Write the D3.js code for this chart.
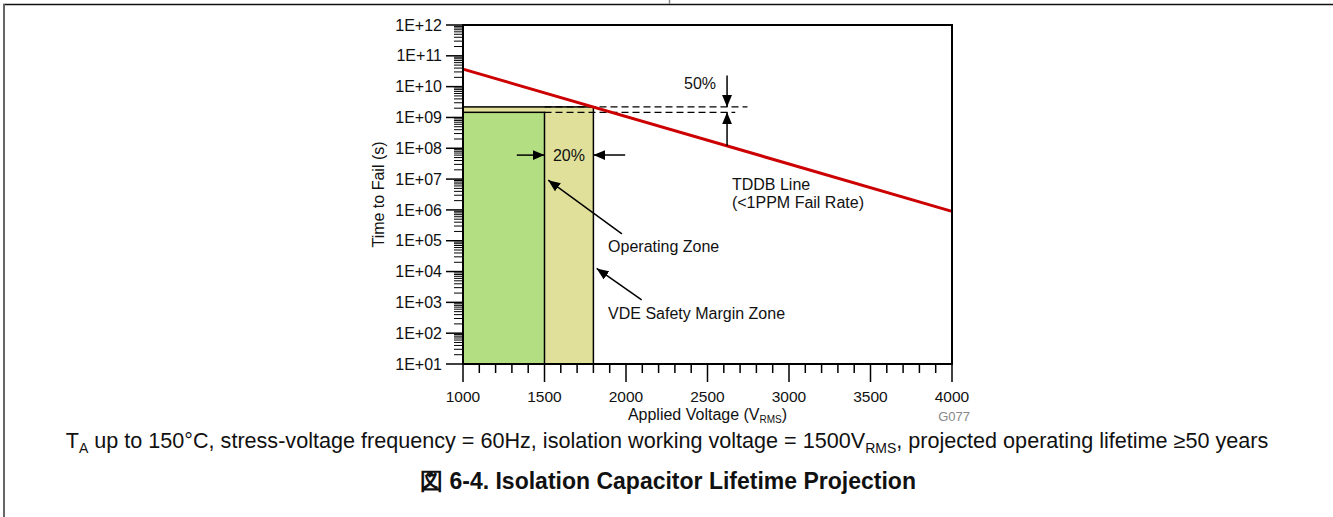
<!DOCTYPE html>
<html>
<head>
<meta charset="utf-8">
<script src="https://cdn.jsdelivr.net/npm/d3@7"></script>
<style>
  html, body { margin: 0; padding: 0; background: #fff; }
  svg { display: block; font-family: "Liberation Sans", Arial, sans-serif; }
</style>
</head>
<body>
<svg id="chart" width="1333" height="517"></svg>
<script>
// Axis ticks
const voltageTicks = [1000, 1500, 2000, 2500, 3000, 3500, 4000];
const timeExponents = [1, 2, 3, 4, 5, 6, 7, 8, 9, 10, 11, 12];
const timeTickLabels = ["1E+01", "1E+02", "1E+03", "1E+04", "1E+05", "1E+06",
                        "1E+07", "1E+08", "1E+09", "1E+10", "1E+11", "1E+12"];

// TDDB projection line (V_RMS, seconds)
const tddbVoltage = [1000, 4000];
const tddbTime = [3.7e10, 9.0e5];

// Zones: working voltage and VDE margin (+20% voltage, 50% time margin)
const zoneNames = ["VDE Safety Margin Zone", "Operating Zone"];
const zoneStartV = [1000, 1000];
const zoneEndV = [1800, 1500];
const zoneTopTime = [2.2e9, 2.2e9 / 1.5];
const zoneColors = ["#e0e09b", "#b3de82"];

const svg = d3.select("#chart");
const W = 1333, H = 517;
const plot = { left: 463, right: 952, top: 25, bottom: 364 };

const x = d3.scaleLinear().domain([1000, 4000]).range([plot.left, plot.right]);
const y = d3.scaleLog().domain([1e1, 1e12]).range([plot.bottom, plot.top]);

// Page frame lines
svg.append("line").attr("x1", 3).attr("x2", W).attr("y1", 4.5).attr("y2", 4.5)
  .attr("stroke", "#111").attr("stroke-width", 1.5);
svg.append("line").attr("x1", 4).attr("x2", 4).attr("y1", 4).attr("y2", H)
  .attr("stroke", "#666").attr("stroke-width", 2);
svg.append("line").attr("x1", 669.5).attr("x2", 669.5).attr("y1", 0).attr("y2", 4)
  .attr("stroke", "#888").attr("stroke-width", 1.5);

// Arrow marker
const defs = svg.append("defs");
defs.append("marker").attr("id", "arrow")
  .attr("viewBox", "0 0 12 10").attr("refX", 12).attr("refY", 5)
  .attr("markerWidth", 12).attr("markerHeight", 10)
  .attr("markerUnits", "userSpaceOnUse").attr("orient", "auto")
  .append("path").attr("d", "M0,0 L12,5 L0,10 Z").attr("fill", "#000");

// Zones
const zones = zoneNames.map((n, i) => ({ name: n, v0: zoneStartV[i], v1: zoneEndV[i], t: zoneTopTime[i], color: zoneColors[i] }));
svg.append("g").selectAll("rect").data(zones).join("rect")
  .attr("x", d => x(d.v0))
  .attr("y", d => y(d.t))
  .attr("width", d => x(d.v1) - x(d.v0))
  .attr("height", d => y(1e1) - y(d.t))
  .attr("fill", d => d.color)
  .attr("stroke", "#000").attr("stroke-width", 1.5);

// Margin reference dashes
const dashV = [[1500, 2745, zoneTopTime[0]], [1500, 2670, zoneTopTime[1]]];
svg.append("g").selectAll("line").data(dashV).join("line")
  .attr("x1", d => x(d[0])).attr("x2", d => x(d[1]))
  .attr("y1", d => y(d[2])).attr("y2", d => y(d[2]))
  .attr("stroke", "#000").attr("stroke-width", 1.3)
  .attr("stroke-dasharray", "7,4");

// TDDB line
const tddb = tddbVoltage.map((v, i) => [v, tddbTime[i]]);
svg.append("path").datum(tddb)
  .attr("d", d3.line().x(d => x(d[0])).y(d => y(d[1])))
  .attr("fill", "none").attr("stroke", "#cc0000").attr("stroke-width", 3);

// Plot frame
svg.append("rect")
  .attr("x", plot.left).attr("y", plot.top)
  .attr("width", plot.right - plot.left).attr("height", plot.bottom - plot.top)
  .attr("fill", "none").attr("stroke", "#000").attr("stroke-width", 2);

// Y axis: major and minor log ticks
const yMinor = [];
timeExponents.slice(0, -1).forEach(e => {
  for (let k = 2; k <= 9; k++) yMinor.push(k * Math.pow(10, e));
});
const yAxisG = svg.append("g").attr("font-size", 16);
yAxisG.selectAll("line.minor").data(yMinor).join("line")
  .attr("class", "minor")
  .attr("x1", plot.left - 9).attr("x2", plot.left)
  .attr("y1", d => y(d)).attr("y2", d => y(d))
  .attr("stroke", "#000").attr("stroke-width", 1);
yAxisG.selectAll("line.major").data(timeExponents).join("line")
  .attr("class", "major")
  .attr("x1", plot.left - 17).attr("x2", plot.left)
  .attr("y1", d => y(Math.pow(10, d))).attr("y2", d => y(Math.pow(10, d)))
  .attr("stroke", "#000").attr("stroke-width", 1.5);
yAxisG.selectAll("text").data(timeExponents).join("text")
  .attr("x", plot.left - 21)
  .attr("y", d => y(Math.pow(10, d)))
  .attr("dy", "0.35em")
  .attr("text-anchor", "end")
  .attr("fill", "#111")
  .text((d, i) => timeTickLabels[i]);

// X axis: major and minor ticks
const xMinor = d3.range(1100, 4000, 100).filter(v => v % 500 !== 0);
const xAxisG = svg.append("g").attr("font-size", 15.5);
xAxisG.selectAll("line.minor").data(xMinor).join("line")
  .attr("class", "minor")
  .attr("x1", d => x(d)).attr("x2", d => x(d))
  .attr("y1", plot.bottom).attr("y2", plot.bottom + 9)
  .attr("stroke", "#000").attr("stroke-width", 1.5);
xAxisG.selectAll("line.major").data(voltageTicks).join("line")
  .attr("class", "major")
  .attr("x1", d => x(d)).attr("x2", d => x(d))
  .attr("y1", plot.bottom).attr("y2", plot.bottom + 18)
  .attr("stroke", "#000").attr("stroke-width", 1.5);
xAxisG.selectAll("text").data(voltageTicks).join("text")
  .attr("x", d => x(d))
  .attr("y", plot.bottom + 38)
  .attr("text-anchor", "middle")
  .attr("fill", "#111")
  .text(d => d);

// Axis titles
const xt = svg.append("text")
  .attr("x", (plot.left + plot.right) / 2).attr("y", plot.bottom + 56)
  .attr("text-anchor", "middle").attr("font-size", 16).attr("fill", "#111");
xt.append("tspan").text("Applied Voltage (V");
xt.append("tspan").attr("font-size", 10).attr("dy", 3).text("RMS");
xt.append("tspan").attr("dy", -3).text(")");

svg.append("text")
  .attr("transform", `translate(384,${(plot.top + plot.bottom) / 2}) rotate(-90)`)
  .attr("text-anchor", "middle").attr("font-size", 16).attr("fill", "#111")
  .text("Time to Fail (s)");

svg.append("text")
  .attr("x", 970).attr("y", plot.bottom + 57)
  .attr("text-anchor", "end").attr("font-size", 13).attr("fill", "#888")
  .text("G077");

// Annotations
const ann = svg.append("g").attr("font-size", 16).attr("fill", "#111");
const arrows = [
  { from: [2620, 2.3e10], to: [2620, zoneTopTime[0]] },
  { from: [2620, 1.2e8], to: [2620, zoneTopTime[1]] },
  { from: [1330, 6e7], to: [1500, 6e7] },
  { from: [1995, 6e7], to: [1800, 6e7] },
  { from: [1975, 1.66e5], to: [1523, 9.2e6] },
  { from: [2096, 1.2e3], to: [1820, 1.26e4] }
];
ann.selectAll("line").data(arrows).join("line")
  .attr("x1", d => x(d.from[0])).attr("y1", d => y(d.from[1]))
  .attr("x2", d => x(d.to[0])).attr("y2", d => y(d.to[1]))
  .attr("stroke", "#000").attr("stroke-width", 1.5)
  .attr("marker-end", "url(#arrow)");

const labels = [
  { text: "50%", v: 2454, t: 1.3e10, anchor: "middle" },
  { text: "20%", v: 1650, t: 6e7, anchor: "middle" },
  { text: "TDDB Line", v: 2650, t: 6.5e6, anchor: "start" },
  { text: "(<1PPM Fail Rate)", v: 2650, t: 1.8e6, anchor: "start" },
  { text: "Operating Zone", v: 1890, t: 6.6e4, anchor: "start" },
  { text: "VDE Safety Margin Zone", v: 1890, t: 430, anchor: "start" }
];
ann.selectAll("text").data(labels).join("text")
  .attr("x", d => x(d.v)).attr("y", d => y(d.t))
  .attr("dy", "0.35em")
  .attr("text-anchor", d => d.anchor)
  .text(d => d.text);

// Caption and figure title
const cap = svg.append("text")
  .attr("x", 667).attr("y", 448)
  .attr("text-anchor", "middle").attr("font-size", 21.6).attr("fill", "#111");
cap.append("tspan").text("T");
cap.append("tspan").attr("font-size", 14).attr("dy", 5).text("A");
cap.append("tspan").attr("dy", -5).text(" up to 150°C, stress-voltage frequency = 60Hz, isolation working voltage = 1500V");
cap.append("tspan").attr("font-size", 14).attr("dy", 5).text("RMS");
cap.append("tspan").attr("dy", -5).text(", projected operating lifetime ≥50 years");

svg.append("text")
  .attr("x", 668).attr("y", 489)
  .attr("text-anchor", "middle").attr("font-size", 23).attr("font-weight", "bold")
  .attr("fill", "#111")
  .text("図 6-4. Isolation Capacitor Lifetime Projection");
</script>
</body>
</html>
